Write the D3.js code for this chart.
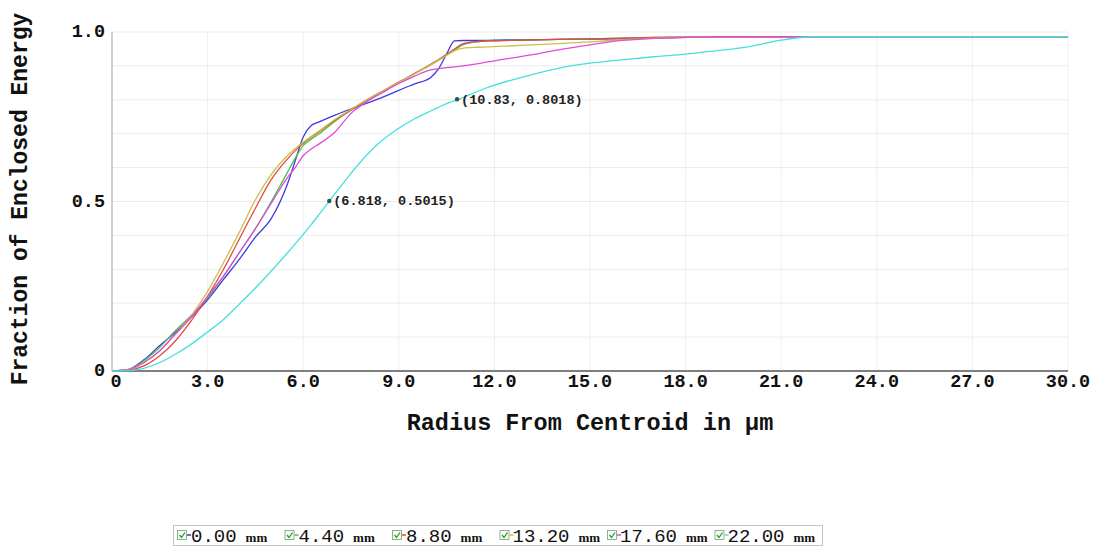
<!DOCTYPE html>
<html><head><meta charset="utf-8">
<script src="https://cdn.jsdelivr.net/npm/d3@7"></script>
<style>body{margin:0;background:#fff}svg{display:block}</style>
</head><body><svg id="c" width="1102" height="548"></svg>
<script>
const radius = [0,0.5,1,1.5,2,2.5,3,3.5,4,4.5,5,5.5,5.75,6,6.25,6.5,7,7.5,8,8.5,9,9.5,10,10.25,10.5,10.75,11,11.5,12,13,14,15,16,17,18,19,20,21,22,24,26,28,30];
const field000 = [0,0.004,0.033,0.075,0.115,0.16,0.21,0.27,0.33,0.395,0.45,0.55,0.62,0.69,0.724,0.735,0.755,0.773,0.79,0.808,0.828,0.847,0.866,0.892,0.935,0.974,0.975,0.975,0.976,0.977,0.978,0.979,0.98,0.982,0.984,0.985,0.986,0.986,0.986,0.986,0.986,0.986,0.986];
const field440 = [0,0.004,0.03,0.07,0.12,0.165,0.215,0.28,0.35,0.42,0.5,0.585,0.628,0.665,0.684,0.7,0.737,0.769,0.798,0.825,0.851,0.877,0.903,0.917,0.932,0.947,0.962,0.972,0.974,0.976,0.978,0.98,0.982,0.984,0.985,0.986,0.986,0.986,0.986,0.986,0.986,0.986,0.986];
const field880 = [0,0.002,0.015,0.045,0.09,0.15,0.22,0.3,0.39,0.48,0.565,0.625,0.65,0.672,0.69,0.706,0.74,0.77,0.8,0.826,0.852,0.878,0.905,0.919,0.934,0.95,0.965,0.972,0.974,0.976,0.978,0.98,0.982,0.984,0.985,0.986,0.986,0.986,0.986,0.986,0.986,0.986,0.986];
const field1320 = [0,0.003,0.025,0.06,0.11,0.165,0.235,0.32,0.41,0.505,0.58,0.635,0.656,0.675,0.692,0.708,0.742,0.772,0.8,0.826,0.851,0.877,0.903,0.917,0.931,0.945,0.952,0.955,0.957,0.961,0.966,0.971,0.977,0.982,0.985,0.986,0.986,0.986,0.986,0.986,0.986,0.986,0.986];
const field1760 = [0,0.003,0.025,0.06,0.11,0.16,0.22,0.28,0.35,0.42,0.495,0.57,0.6,0.635,0.655,0.67,0.705,0.76,0.795,0.822,0.848,0.87,0.888,0.892,0.895,0.897,0.9,0.907,0.915,0.93,0.947,0.962,0.975,0.981,0.984,0.986,0.986,0.986,0.986,0.986,0.986,0.986,0.986];
const field2200 = [0,0.001,0.008,0.025,0.05,0.08,0.115,0.152,0.198,0.245,0.295,0.348,0.375,0.403,0.432,0.462,0.523,0.583,0.638,0.682,0.716,0.744,0.767,0.778,0.789,0.797,0.806,0.826,0.843,0.87,0.893,0.908,0.918,0.927,0.935,0.945,0.957,0.976,0.986,0.986,0.986,0.986,0.986];
const seriesNames = ["0.00","4.40","8.80","13.20","17.60","22.00"];
const seriesColors = ["#3b3bdc","#4cbf4c","#e6483f","#c9c046","#e04be0","#45e0dc"];
const xTicks = [0,3,6,9,12,15,18,21,24,27,30];
const xTickLabels = ["0","3.0","6.0","9.0","12.0","15.0","18.0","21.0","24.0","27.0","30.0"];
const yTicks = [0,0.5,1];
const yTickLabels = ["0","0.5","1.0"];
const annX = [6.818,10.83];
const annY = [0.5015,0.8018];
const annLabels = ["(6.818, 0.5015)","(10.83, 0.8018)"];

const allSeries = [field000,field440,field880,field1320,field1760,field2200];
const svg = d3.select("#c");
const FONT = "'Liberation Mono','Courier New',monospace";
const x = d3.scaleLinear().domain([0,30]).range([112,1068]);
const y = d3.scaleLinear().domain([0,1]).range([371,32]);

// grid
const g = svg.append("g");
g.selectAll(".vg").data(xTicks.slice(1)).join("line")
  .attr("x1",d=>x(d)).attr("x2",d=>x(d)).attr("y1",y(1)).attr("y2",y(0))
  .attr("stroke","#efefef").attr("stroke-width",1);
g.selectAll(".hg").data(d3.range(1,11).map(i=>i/10)).join("line")
  .attr("x1",x(0)).attr("x2",x(30)).attr("y1",d=>y(d)).attr("y2",d=>y(d))
  .attr("stroke","#ececec").attr("stroke-width",1);

// axes lines
svg.append("line").attr("x1",x(0)).attr("x2",x(0)).attr("y1",y(1)).attr("y2",y(0)).attr("stroke","#b0b0b0").attr("stroke-width",1.2);
svg.append("line").attr("x1",x(0)).attr("x2",x(30)).attr("y1",y(0)).attr("y2",y(0)).attr("stroke","#555").attr("stroke-width",1.5);

// tick labels
svg.selectAll(".xt").data(xTicks).join("text")
  .attr("x",(d,i)=>x(d)+ (i===0?4:0)).attr("y",387).attr("text-anchor","middle")
  .attr("font-family",FONT).attr("font-weight","bold").attr("font-size",18.5).attr("fill","#111")
  .text((d,i)=>xTickLabels[i]);
svg.selectAll(".yt").data(yTicks).join("text")
  .attr("x",105).attr("y",d=>y(d)+5).attr("text-anchor","end")
  .attr("font-family",FONT).attr("font-weight","bold").attr("font-size",18.5).attr("fill","#111")
  .text((d,i)=>yTickLabels[i]);

// axis titles
svg.append("text").attr("x",590).attr("y",430).attr("text-anchor","middle")
  .attr("font-family",FONT).attr("font-weight","bold").attr("font-size",23.5).attr("fill","#111")
  .text("Radius From Centroid in µm");
svg.append("text").attr("transform","translate(27,199) rotate(-90)").attr("text-anchor","middle")
  .attr("font-family",FONT).attr("font-weight","bold").attr("font-size",23).attr("fill","#111")
  .text("Fraction of Enclosed Energy");

// curves
const line = d3.line().x((d,i)=>x(radius[i])).y(d=>y(d)).curve(d3.curveMonotoneX);
svg.append("g").selectAll("path").data(allSeries).join("path")
  .attr("d",d=>line(d)).attr("fill","none")
  .attr("stroke",(d,i)=>seriesColors[i]).attr("stroke-width",1.3);

// annotations
const ann = svg.append("g");
annX.forEach((ax,i)=>{
  ann.append("circle").attr("cx",x(ax)).attr("cy",y(annY[i])).attr("r",2.2).attr("fill","#2b5454");
  ann.append("text").attr("x",x(ax)+4).attr("y",y(annY[i])+4.5)
    .attr("font-family",FONT).attr("font-weight","bold").attr("font-size",13.5).attr("fill","#222")
    .text(annLabels[i]);
});

// legend
const lg = svg.append("g");
lg.append("rect").attr("x",173.5).attr("y",525.5).attr("width",649).attr("height",20)
  .attr("fill","#fff").attr("stroke","#c4c4c4");
seriesNames.forEach((n,i)=>{
  const x0 = 177 + i*107.5;
  const it = lg.append("g");
  it.append("rect").attr("x",x0+0.5).attr("y",530.5).attr("width",9).attr("height",9)
    .attr("fill","#f4fff4").attr("stroke","#7a9a7a").attr("stroke-width",0.8);
  it.append("path").attr("d",`M${x0+2.5},535 L${x0+4.5},537.5 L${x0+8},532.5`)
    .attr("fill","none").attr("stroke","#2a9a2a").attr("stroke-width",1.3);
  it.append("line").attr("x1",x0+10).attr("x2",x0+14).attr("y1",535).attr("y2",535)
    .attr("stroke",seriesColors[i]).attr("stroke-width",1.5);
  const t = it.append("text").attr("x",x0+ (n.length>4?13:14)).attr("y",541.5)
    .attr("font-family",FONT).attr("font-size",19).attr("fill","#111");
  t.append("tspan").text(n);
  t.append("tspan").attr("font-size",13).attr("font-family","'Liberation Serif',serif").attr("font-weight","bold").attr("dx",9).text("mm");
});
</script></body></html>
